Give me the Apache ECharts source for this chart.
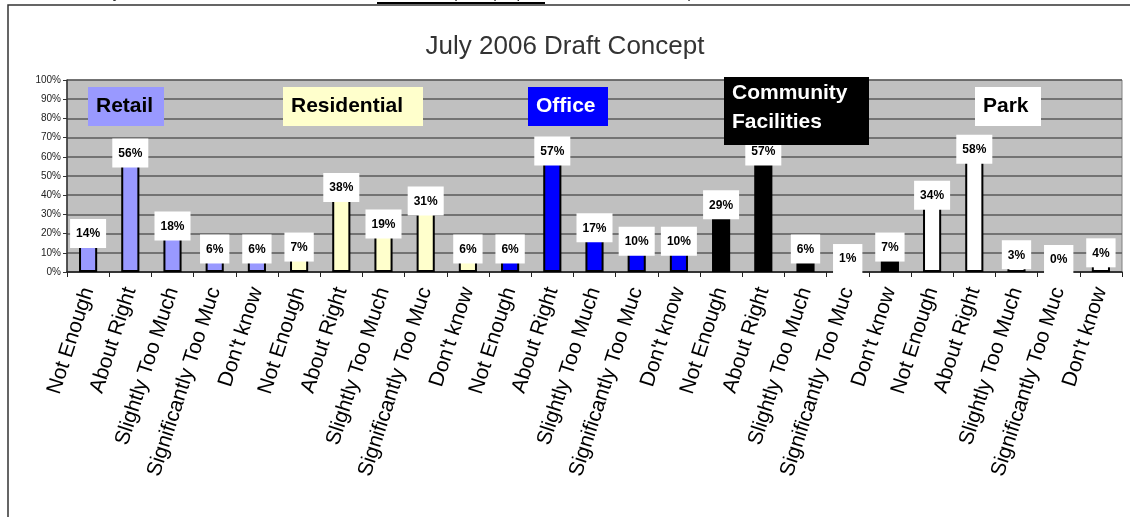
<!DOCTYPE html>
<html>
<head>
<meta charset="utf-8">
<script src="https://cdn.jsdelivr.net/npm/echarts@6/dist/echarts.min.js"></script>
<style>
html,body{margin:0;padding:0;background:#fff;}
#c{width:1130px;height:517px;}
</style>
</head>
<body>
<div id="c"></div>
<script>
// ---- data ----
var categories = [
  'Not Enough','About Right','Slightly Too Much','Significantly Too Much',"Don't know",
  'Not Enough','About Right','Slightly Too Much','Significantly Too Much',"Don't know",
  'Not Enough','About Right','Slightly Too Much','Significantly Too Much',"Don't know",
  'Not Enough','About Right','Slightly Too Much','Significantly Too Much',"Don't know",
  'Not Enough','About Right','Slightly Too Much','Significantly Too Much',"Don't know"
];
var groups = ['Retail','Residential','Office','Community Facilities','Park'];
var groupOfBar = [0,0,0,0,0, 1,1,1,1,1, 2,2,2,2,2, 3,3,3,3,3, 4,4,4,4,4];
var values = [14,56,18,6,6, 7,38,19,31,6, 6,57,17,10,10, 29,57,6,1,7, 34,58,3,0,4];
var yTicks = [0,10,20,30,40,50,60,70,80,90,100];
var titleText = 'July 2006 Draft Concept';

// ---- styles ----
var groupFill = ['#9999FF','#FFFFCC','#0000FF','#000000','#FFFFFF'];
var groupTextColor = ['#000','#000','#fff','#fff','#000'];
var FONT = 'Liberation Sans, Arial, sans-serif';

var barData = values.map(function (v, i) {
  return { value: v, itemStyle: { color: groupFill[groupOfBar[i]] } };
});

function legendBox(x, y, w, h, gi, lines, lineY) {
  var children = [{
    type: 'rect', shape: { x: x, y: y, width: w, height: h },
    style: { fill: groupFill[gi] }, z: 10
  }];
  lines.forEach(function (t, k) {
    children.push({
      type: 'text', z: 11,
      style: { x: x + 8, y: lineY[k], text: t, fill: groupTextColor[gi],
        font: 'bold 21px ' + FONT, textAlign: 'left', textVerticalAlign: 'middle' }
    });
  });
  return { type: 'group', children: children };
}

var chart = echarts.init(document.getElementById('c'), null, { renderer: 'canvas' });
chart.setOption({
  animation: false,
  backgroundColor: '#fff',
  title: {
    text: titleText, left: 'center', top: 29,
    textStyle: { fontFamily: FONT, fontSize: 26, fontWeight: 'normal', color: '#333' }
  },
  grid: { left: 67, right: 8, top: 80, bottom: 245, show: true,
    backgroundColor: '#C0C0C0', borderColor: '#808080', borderWidth: 1 },
  xAxis: {
    type: 'category', data: categories,
    axisLine: { lineStyle: { color: '#222', width: 1.5 } },
    axisTick: { show: true, interval: 0, length: 5, lineStyle: { color: '#222', width: 1 } },
    axisLabel: {
      interval: 0, rotate: 72, margin: 16, fontSize: 21, color: '#000', fontFamily: FONT,
      width: 204, overflow: 'truncate', ellipsis: ''
    }
  },
  yAxis: {
    type: 'value', min: 0, max: 100, interval: 10,
    axisLine: { show: true, lineStyle: { color: '#333', width: 1.5 } },
    axisTick: { show: true, length: 4, lineStyle: { color: '#333' } },
    axisLabel: { fontSize: 10, color: '#222', fontFamily: FONT, margin: 6,
      formatter: function (v) { return yTicks.indexOf(v) >= 0 ? v + '%' : ''; } },
    splitLine: { lineStyle: { color: '#5a5a5a', width: 1.5 } }
  },
  series: [{
    type: 'bar', data: barData, barWidth: '43%',
    itemStyle: { borderColor: '#000', borderWidth: 2 },
    label: {
      show: true, position: 'top', distance: -3, formatter: '{c}%',
      backgroundColor: '#fff', padding: [9, 6, 8, 6],
      fontFamily: FONT, fontWeight: 'bold', fontSize: 12, color: '#000'
    }
  }],
  graphic: [
    { type: 'rect', shape: { x: 8, y: 5, width: 1140, height: 530 },
      style: { fill: null, stroke: '#333', lineWidth: 1.5 }, z: -1 },
    { type: 'text', style: { x: 30, y: -14, text: 'How would you assess the amount of                                  space proposed in the draft concept?',
      font: '16px ' + FONT, fill: '#333' } },
    { type: 'line', shape: { x1: 377, y1: 3, x2: 545, y2: 3 }, style: { stroke: '#000', lineWidth: 2 } },
    legendBox(88, 87, 76, 39, 0, [groups[0]], [106]),
    legendBox(283, 87, 140, 39, 1, [groups[1]], [106]),
    legendBox(528, 87, 80, 39, 2, [groups[2]], [106]),
    legendBox(724, 77, 145, 68, 3, ['Community', 'Facilities'], [93, 122]),
    legendBox(975, 87, 66, 39, 4, [groups[4]], [106])
  ]
});
</script>
</body>
</html>
